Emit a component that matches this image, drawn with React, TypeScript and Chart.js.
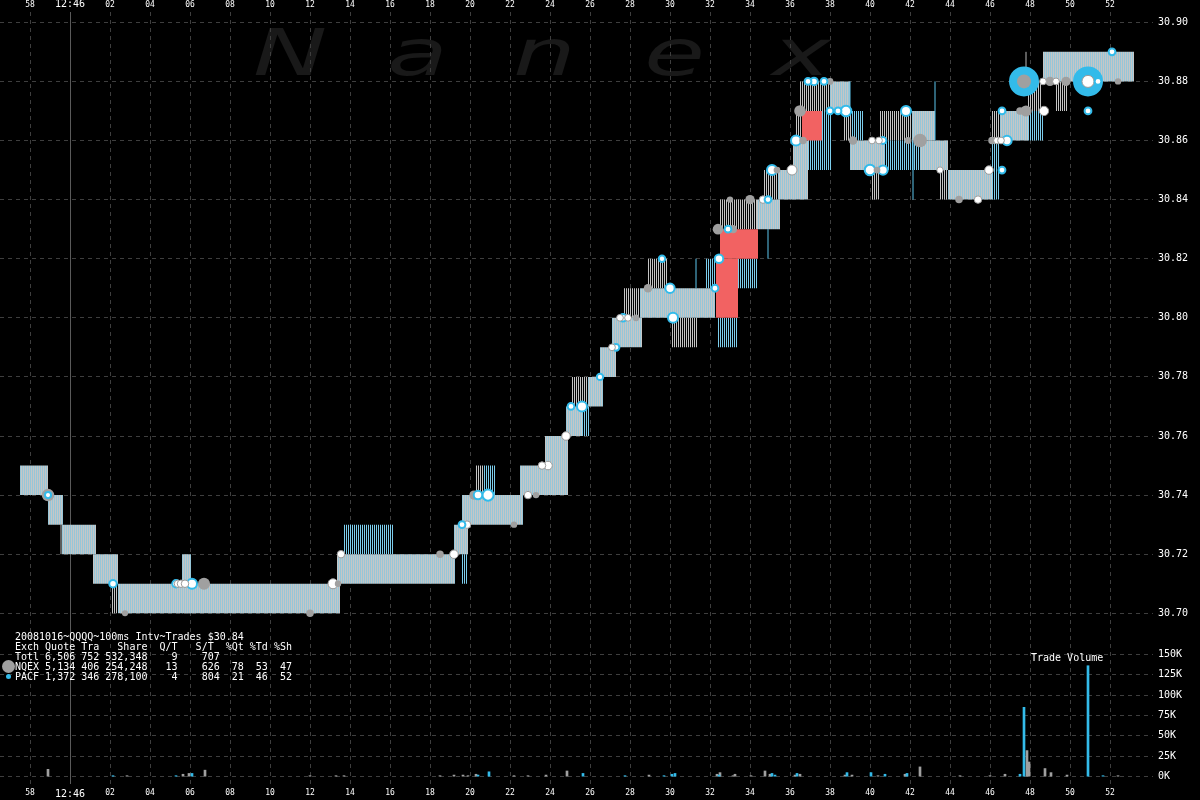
import React, { useEffect, useRef } from 'react';
import { Chart, registerables } from 'chart.js';

Chart.register(...registerables);

// ---- time axis (seconds relative to 12:46:00) ----
const timeTicks = [-2, 0, 2, 4, 6, 8, 10, 12, 14, 16, 18, 20, 22, 24, 26, 28, 30, 32, 34, 36, 38, 40, 42, 44, 46, 48, 50, 52];
const priceTicks = [30.7, 30.72, 30.74, 30.76, 30.78, 30.8, 30.82, 30.84, 30.86, 30.88, 30.9];
const volumeTicks = [0, 25000, 50000, 75000, 100000, 125000, 150000];

// ---- NBBO quote band (bid / ask held between start and end) ----
const quoteStart = [-2.5, -1.1, -0.4, 1.15, 2.4, 5.6, 5.9, 13.35, 19.2, 19.6, 22.5, 23.75, 24.8, 25.9, 26.5, 27.1, 28.5, 34.35, 35.4, 36.15, 38.0, 39.0, 42.1, 42.5, 43.9, 46.5, 48.65];
const quoteEnd = [-1.1, -0.35, 1.3, 2.4, 5.65, 6.05, 13.5, 19.25, 19.9, 22.65, 24.8, 24.9, 25.6, 26.65, 27.3, 28.6, 32.25, 35.5, 36.15, 36.9, 39.0, 40.7, 43.25, 43.9, 46.1, 47.9, 53.2];
const quoteBid = [30.74, 30.73, 30.72, 30.71, 30.70, 30.70, 30.70, 30.71, 30.72, 30.73, 30.74, 30.74, 30.76, 30.77, 30.78, 30.79, 30.80, 30.83, 30.84, 30.84, 30.87, 30.85, 30.86, 30.85, 30.84, 30.86, 30.88];
const quoteAsk = [30.75, 30.74, 30.73, 30.72, 30.71, 30.72, 30.71, 30.72, 30.73, 30.74, 30.75, 30.76, 30.77, 30.78, 30.79, 30.80, 30.81, 30.84, 30.85, 30.86, 30.88, 30.86, 30.87, 30.86, 30.85, 30.87, 30.89];

// ---- fast-flickering NQEX quotes ----
const nqexFlickStart = [2.05, 20.3, 25.1, 27.7, 28.9, 30.1, 32.5, 34.7, 36.3, 36.5, 38.7, 40.1, 40.5, 43.5, 46.1, 47.9, 49.25];
const nqexFlickEnd = [2.4, 20.65, 25.9, 28.5, 29.9, 31.4, 34.35, 35.4, 36.6, 38.0, 39.1, 40.45, 42.1, 43.9, 46.5, 48.6, 49.85];
const nqexFlickLow = [30.70, 30.74, 30.77, 30.80, 30.81, 30.79, 30.83, 30.84, 30.86, 30.87, 30.86, 30.84, 30.86, 30.84, 30.86, 30.87, 30.87];
const nqexFlickHigh = [30.71, 30.75, 30.78, 30.81, 30.82, 30.80, 30.84, 30.85, 30.87, 30.88, 30.87, 30.85, 30.87, 30.85, 30.87, 30.88, 30.88];

// ---- fast-flickering PACF quotes ----
const pacfFlickStart = [13.65, 19.6, 20.65, 25.6, 31.75, 32.35, 33.4, 36.9, 39.1, 40.7, 46.1, 47.9];
const pacfFlickEnd = [16.2, 19.9, 21.3, 26.0, 32.25, 33.4, 34.4, 38.1, 39.65, 42.5, 46.5, 48.7];
const pacfFlickLow = [30.72, 30.71, 30.74, 30.76, 30.81, 30.79, 30.81, 30.85, 30.86, 30.85, 30.84, 30.86];
const pacfFlickHigh = [30.73, 30.72, 30.75, 30.77, 30.82, 30.80, 30.82, 30.87, 30.87, 30.86, 30.86, 30.87];

// ---- single quote updates (thin vertical lines) ----
const pacfLineTime = [31.3, 34.9, 39.0, 42.15, 43.25];
const pacfLineLow = [30.81, 30.82, 30.87, 30.84, 30.86];
const pacfLineHigh = [30.82, 30.83, 30.88, 30.86, 30.88];
const nqexLineTime = [-0.45, 47.8];
const nqexLineLow = [30.72, 30.88];
const nqexLineHigh = [30.73, 30.89];

// ---- crossed market ----
const crossedStart = [32.3, 32.5, 36.6];
const crossedEnd = [33.4, 34.4, 37.6];
const crossedLow = [30.80, 30.82, 30.86];
const crossedHigh = [30.82, 30.83, 30.87];

// ---- trades ----
const nqexTime = [-1.1, 2.75, 6.7, 12, 13.4, 18.5, 20.2, 22.2, 23.3, 26.5, 28.3, 28.9, 32.4, 33.0, 33.15, 34.0, 35.35, 36.5, 36.65, 38.0, 39.15, 40.35, 41.9, 42.5, 44.45, 46.1, 47.5, 47.7, 47.8, 49.0, 49.8, 52.4];
const nqexPrice = [30.74, 30.70, 30.71, 30.70, 30.71, 30.72, 30.74, 30.73, 30.74, 30.78, 30.80, 30.81, 30.83, 30.84, 30.83, 30.84, 30.85, 30.87, 30.86, 30.88, 30.86, 30.85, 30.86, 30.86, 30.84, 30.86, 30.87, 30.88, 30.87, 30.88, 30.88, 30.88];
const nqexSize = [9000, 200, 8000, 1000, 300, 1000, 3000, 300, 300, 300, 500, 2000, 5000, 300, 1500, 3000, 500, 7000, 1000, 500, 2000, 500, 500, 12000, 1000, 1000, 1000, 13000, 6000, 3000, 3000, 300];

const pacfTime = [-1.1, 2.15, 5.3, 6.1, 19.6, 20.4, 20.9, 25.05, 25.6, 26.5, 27.3, 27.65, 29.6, 30.0, 30.15, 32.25, 32.45, 32.9, 34.9, 35.1, 36.3, 36.9, 37.2, 37.7, 38.0, 38.4, 38.8, 40.0, 40.65, 40.65, 41.8, 46.6, 46.6, 46.85, 47.7, 50.9, 51.4, 50.9, 52.1];
const pacfPrice = [30.74, 30.71, 30.71, 30.71, 30.73, 30.74, 30.74, 30.77, 30.77, 30.78, 30.79, 30.80, 30.82, 30.81, 30.80, 30.81, 30.82, 30.83, 30.84, 30.85, 30.86, 30.88, 30.88, 30.88, 30.87, 30.87, 30.87, 30.85, 30.86, 30.85, 30.87, 30.85, 30.87, 30.86, 30.88, 30.88, 30.88, 30.87, 30.89];
const pacfSize = [200, 1000, 1000, 4000, 500, 2000, 6000, 500, 4000, 300, 500, 1000, 300, 3000, 4000, 500, 2000, 500, 500, 4000, 4000, 500, 1000, 500, 500, 500, 5000, 5000, 500, 3000, 4000, 500, 500, 3000, 85000, 136000, 500, 500, 500];

const otherTime = [5.4, 5.55, 5.75, 13.15, 13.55, 19.2, 19.85, 22.9, 23.6, 23.9, 24.8, 27.1, 27.5, 27.9, 34.65, 36.1, 40.1, 40.45, 43.5, 45.4, 45.95, 46.35, 46.55, 48.65, 48.7, 49.3, 50.9];
const otherPrice = [30.71, 30.71, 30.71, 30.71, 30.72, 30.72, 30.73, 30.74, 30.75, 30.75, 30.76, 30.79, 30.80, 30.80, 30.84, 30.85, 30.86, 30.86, 30.85, 30.84, 30.85, 30.86, 30.86, 30.88, 30.87, 30.88, 30.88];
const otherSize = [1000, 1000, 1000, 4000, 1000, 2000, 1000, 1000, 1000, 2000, 2000, 500, 500, 500, 1000, 4000, 500, 500, 300, 1000, 2000, 500, 500, 500, 3000, 500, 8000];

// ---- trade volume (per 100ms interval) ----
const nqexVolTime = [-1.1, 2.85, 5.65, 5.95, 6.75, 12, 13.3, 13.7, 18.5, 19.2, 19.65, 19.9, 20.3, 22.2, 22.9, 23.8, 24.85, 28.95, 32.35, 32.5, 33.15, 33.25, 34.05, 34.75, 35.0, 36.25, 36.5, 38.75, 39.1, 40.4, 41.75, 42.5, 44.5, 46.0, 46.75, 47.85, 47.95, 48.75, 49.05, 49.85, 52.4];
const nqexVolume = [9000, 800, 3000, 4000, 8000, 500, 400, 400, 500, 2000, 2000, 500, 3000, 500, 500, 2000, 7000, 2000, 3000, 5000, 1000, 3000, 500, 7000, 3000, 2000, 3000, 2000, 2000, 1000, 3000, 12000, 500, 1000, 3000, 32000, 18000, 10000, 5000, 2000, 500];
const pacfVolTime = [2.15, 5.3, 6.1, 20.4, 20.95, 25.65, 27.75, 29.7, 30.1, 30.25, 32.45, 35.1, 35.25, 36.35, 38.85, 40.05, 40.75, 41.85, 47.5, 47.7, 50.9, 51.65];
const pacfVolume = [1000, 1000, 4000, 2000, 6000, 4000, 1000, 1000, 3000, 4000, 2000, 4000, 2000, 4000, 5000, 5000, 3000, 4000, 3000, 85000, 136000, 500];

const legendLines = [
  '20081016~QQQQ~100ms Intv~Trades $30.84',
  'Exch Quote Tra   Share  Q/T   S/T  %Qt %Td %Sh',
  'Totl 6,506 752 532,348    9    707',
  'NQEX 5,134 406 254,248   13    626  78  53  47',
  'PACF 1,372 346 278,100    4    804  21  46  52',
];

const MONO = '"DejaVu Sans Mono", monospace';
const BLUE = '#33bbea';
const GREY = '#a0a0a0';

function rectPoints(start: number[], end: number[], low: number[], high: number[]) {
  const pts: any[] = [];
  for (let i = 0; i < start.length; i++) {
    pts.push({ x: start[i], y: high[i] }, { x: end[i], y: high[i] }, { x: end[i], y: low[i] }, { x: start[i], y: low[i] }, { x: start[i], y: null });
  }
  return pts;
}

function linePoints(time: number[], low: number[], high: number[]) {
  const pts: any[] = [];
  for (let i = 0; i < time.length; i++) {
    pts.push({ x: time[i], y: low[i] }, { x: time[i], y: high[i] }, { x: time[i], y: null });
  }
  return pts;
}

function stripes(ctx: CanvasRenderingContext2D, colors: string[]) {
  const c = document.createElement('canvas');
  c.width = colors.length;
  c.height = 1;
  const g = c.getContext('2d')!;
  colors.forEach((col, i) => {
    g.fillStyle = col;
    g.fillRect(i, 0, 1, 1);
  });
  return ctx.createPattern(c, 'repeat');
}

function radius(size: number) {
  return Math.min(14, 2.5 + 1.25 * Math.sqrt(size / 1000));
}

function timeLabel(v: number) {
  if (v === 0) return '12:46';
  if (v < 0) return String(60 + v);
  return String(v).padStart(2, '0');
}

// axis ranges (price panel 12..630 px, volume panel 630..784 px)
const T_MIN = -3.5, T_MAX = 54.15;
const P_MIN = 30.694349, P_MAX = 30.903486;
const V_MIN = -8946, V_MAX = 179780;
const PRICE_WEIGHT = 618, VOLUME_WEIGHT = 154;

const zeroPad = (s: any) => {
  s.paddingLeft = 0;
  s.paddingRight = 0;
};

export default function App() {
  const ref = useRef<HTMLCanvasElement>(null);

  useEffect(() => {
    const canvas = ref.current!;
    const ctx = canvas.getContext('2d')!;
    const bandFill = stripes(ctx, ['#96c6d8', '#c6c6c6']);
    const nqexFill = stripes(ctx, ['#c4c4c4', '#000000']);
    const pacfFill = stripes(ctx, ['#7ccdec', '#000000']);

    const trades = [
      ...nqexTime.map((t, i) => ({ x: t, y: nqexPrice[i], size: nqexSize[i], ex: 'N' })),
      ...pacfTime.map((t, i) => ({ x: t, y: pacfPrice[i], size: pacfSize[i], ex: 'P' })),
      ...otherTime.map((t, i) => ({ x: t, y: otherPrice[i], size: otherSize[i], ex: 'W' })),
    ].sort((a, b) => b.size - a.size);

    const rectDataset = (label: string, data: any[], fill: any, order: number) => ({
      type: 'line' as const,
      label,
      data,
      xAxisID: 'x',
      yAxisID: 'y',
      fill: 'shape',
      backgroundColor: fill,
      borderColor: 'transparent',
      borderWidth: 0,
      pointRadius: 0,
      tension: 0,
      spanGaps: false,
      order,
    });

    const lineDataset = (label: string, data: any[], color: string, order: number) => ({
      type: 'line' as const,
      label,
      data,
      xAxisID: 'x',
      yAxisID: 'y',
      fill: false,
      borderColor: color,
      borderWidth: 1,
      pointRadius: 0,
      tension: 0,
      spanGaps: false,
      order,
    });

    const gridDash = (c: any) => (c.tick && c.tick.value === 0 ? [] : [4, 4]);

    const chart = new Chart(canvas, {
      type: 'line',
      data: {
        datasets: [
          rectDataset('NQEX flicker', rectPoints(nqexFlickStart, nqexFlickEnd, nqexFlickLow, nqexFlickHigh), nqexFill, 14),
          rectDataset('PACF flicker', rectPoints(pacfFlickStart, pacfFlickEnd, pacfFlickLow, pacfFlickHigh), pacfFill, 13),
          rectDataset('Quote', rectPoints(quoteStart, quoteEnd, quoteBid, quoteAsk), bandFill, 12),
          rectDataset('Crossed', rectPoints(crossedStart, crossedEnd, crossedLow, crossedHigh), '#f26262', 11),
          lineDataset('PACF quote', linePoints(pacfLineTime, pacfLineLow, pacfLineHigh), '#5cc6ee', 10),
          lineDataset('NQEX quote', linePoints(nqexLineTime, nqexLineLow, nqexLineHigh), '#b8b8b8', 10),
          {
            type: 'bar',
            label: 'NQEX volume',
            data: nqexVolTime.map((t, i) => ({ x: t, y: nqexVolume[i] })),
            xAxisID: 'x',
            yAxisID: 'yv',
            backgroundColor: GREY,
            barThickness: 2,
            grouped: false,
            minBarLength: 1,
            order: 6,
          },
          {
            type: 'bar',
            label: 'PACF volume',
            data: pacfVolTime.map((t, i) => ({ x: t, y: pacfVolume[i] })),
            xAxisID: 'x',
            yAxisID: 'yv',
            backgroundColor: BLUE,
            barThickness: 2,
            grouped: false,
            minBarLength: 1,
            order: 5,
          },
          {
            type: 'scatter',
            label: 'Trades',
            data: trades,
            xAxisID: 'x',
            yAxisID: 'y',
            pointRadius: (c: any) => radius(c.raw ? c.raw.size : 0),
            pointBackgroundColor: (c: any) => {
              const r = c.raw;
              if (!r) return GREY;
              if (r.ex === 'N') return GREY;
              if (r.ex === 'P') return r.size >= 20000 ? BLUE : '#ffffff';
              return '#ffffff';
            },
            pointBorderColor: (c: any) => {
              const r = c.raw;
              if (!r) return GREY;
              if (r.ex === 'N') return GREY;
              if (r.ex === 'P') return BLUE;
              return '#9a9a9a';
            },
            pointBorderWidth: (c: any) => {
              const r = c.raw;
              if (!r) return 0;
              if (r.ex === 'N') return 0;
              if (r.ex === 'P') return 2;
              return 1;
            },
            order: 1,
          },
        ] as any,
      },
      options: {
        animation: false,
        responsive: false,
        maintainAspectRatio: false,
        devicePixelRatio: 1,
        layout: { padding: 0, autoPadding: false },
        events: [],
        plugins: {
          legend: { display: false },
          tooltip: { enabled: false },
          title: { display: false },
        },
        scales: {
          x: {
            type: 'linear',
            position: 'bottom',
            min: T_MIN,
            max: T_MAX,
            offset: false,
            afterBuildTicks: (s: any) => {
              s.ticks = timeTicks.map((v) => ({ value: v }));
            },
            afterFit: (s: any) => {
              s.height = 16;
              zeroPad(s);
            },
            grid: {
              offset: false,
              color: (c: any) => (c.tick && c.tick.value === 0 ? '#5a5a5a' : '#3e3e3e'),
              drawTicks: false,
              lineWidth: 1,
            },
            border: { display: false, dash: gridDash },
            ticks: {
              color: '#ffffff',
              padding: 4,
              autoSkip: false,
              maxRotation: 0,
              font: (c: any) => ({ family: MONO, size: c.tick && c.tick.value === 0 ? 10 : 8 }),
              callback: (v: any) => timeLabel(Number(v)),
            },
          },
          x2: {
            type: 'linear',
            position: 'top',
            min: T_MIN,
            max: T_MAX,
            offset: false,
            afterBuildTicks: (s: any) => {
              s.ticks = timeTicks.map((v) => ({ value: v }));
            },
            afterFit: (s: any) => {
              s.height = 12;
              zeroPad(s);
            },
            grid: { display: false, drawTicks: false, offset: false },
            border: { display: false },
            ticks: {
              color: '#ffffff',
              padding: 2,
              autoSkip: false,
              maxRotation: 0,
              font: (c: any) => ({ family: MONO, size: c.tick && c.tick.value === 0 ? 10 : 8 }),
              callback: (v: any) => timeLabel(Number(v)),
            },
          },
          y: {
            type: 'linear',
            position: 'right',
            stack: 'panels',
            stackWeight: PRICE_WEIGHT,
            weight: 0,
            min: P_MIN,
            max: P_MAX,
            afterBuildTicks: (s: any) => {
              s.ticks = priceTicks.map((v) => ({ value: v }));
            },
            afterFit: (s: any) => {
              s.width = 47;
              zeroPad(s);
            },
            grid: { color: '#3e3e3e', drawTicks: false, lineWidth: 1 },
            border: { display: false, dash: [4, 4] },
            ticks: {
              color: '#ffffff',
              padding: 5,
              autoSkip: false,
              font: { family: MONO, size: 10 },
              callback: (v: any) => Number(v).toFixed(2),
            },
          },
          yv: {
            type: 'linear',
            position: 'right',
            stack: 'panels',
            stackWeight: VOLUME_WEIGHT,
            weight: 1,
            min: V_MIN,
            max: V_MAX,
            afterBuildTicks: (s: any) => {
              s.ticks = volumeTicks.map((v) => ({ value: v }));
            },
            afterFit: (s: any) => {
              s.width = 47;
              zeroPad(s);
            },
            grid: { color: '#3e3e3e', drawTicks: false, lineWidth: 1 },
            border: { display: false, dash: [4, 4] },
            ticks: {
              color: '#ffffff',
              padding: 5,
              autoSkip: false,
              font: { family: MONO, size: 10 },
              callback: (v: any) => Math.round(Number(v) / 1000) + 'K',
            },
          },
        },
      } as any,
    });
    return () => chart.destroy();
  }, []);

  const wm = (ch: string, left: number) => (
    <span
      key={ch + left}
      style={{
        position: 'absolute',
        left,
        top: 21,
        font: 'italic 64px "DejaVu Sans", sans-serif',
        lineHeight: '64px',
        color: '#191919',
        transform: 'scaleX(1.55)',
        transformOrigin: '0 0',
        whiteSpace: 'pre',
      }}
    >
      {ch}
    </span>
  );

  return (
    <div
      style={{
        position: 'fixed',
        left: 0,
        top: 0,
        width: 1200,
        height: 800,
        background: '#000',
        overflow: 'hidden',
      }}
    >
      {wm('N', 253)}
      {wm('a', 387)}
      {wm('n', 513)}
      {wm('e', 644)}
      {wm('x', 772)}
      <canvas
        ref={ref}
        width={1200}
        height={800}
        style={{ position: 'absolute', left: 0, top: 0, width: 1200, height: 800 }}
      />
      <pre
        style={{
          position: 'absolute',
          left: 15,
          top: 632,
          margin: 0,
          font: `10px ${MONO}`,
          lineHeight: '10px',
          color: '#ffffff',
        }}
      >
        {legendLines.join('\n')}
      </pre>
      <span
        style={{
          position: 'absolute',
          left: 2,
          top: 660,
          width: 13,
          height: 13,
          borderRadius: '50%',
          background: GREY,
        }}
      />
      <span
        style={{
          position: 'absolute',
          left: 6,
          top: 674,
          width: 5,
          height: 5,
          borderRadius: '50%',
          background: BLUE,
        }}
      />
      <div
        style={{
          position: 'absolute',
          left: 1031,
          top: 653,
          font: `10px ${MONO}`,
          lineHeight: '10px',
          color: '#ffffff',
          whiteSpace: 'pre',
        }}
      >
        Trade Volume
      </div>
    </div>
  );
}
